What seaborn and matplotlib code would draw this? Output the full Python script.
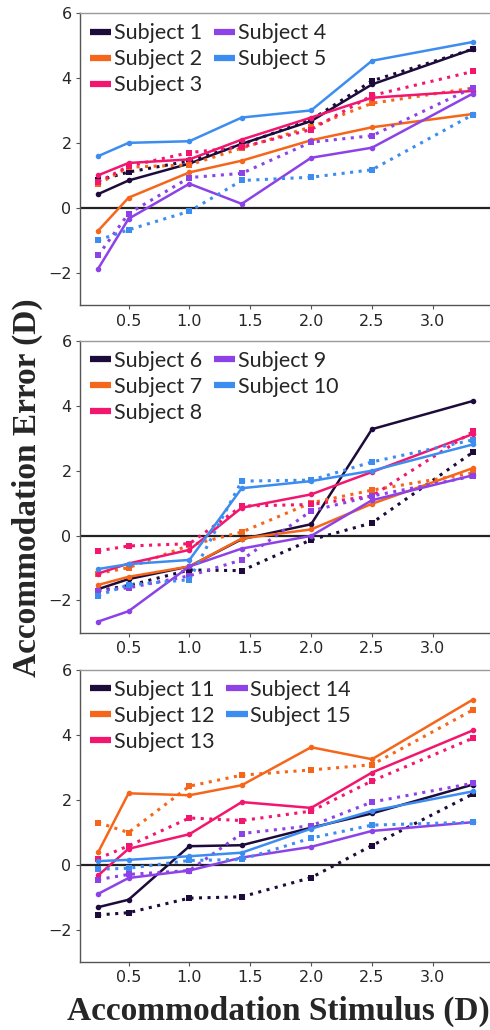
import matplotlib.pyplot as plt
import pandas as pd
import seaborn as sns
from matplotlib.lines import Line2D

# stimulus levels (D)
stimulus = [0.25, 0.5, 1.0, 1.43, 2.0, 2.5, 3.33]

subjects = [f'Subject {i}' for i in range(1, 16)]
colors = ['#1c0b3b', '#f5661a', '#f2166e', '#8c42e6', '#3d8df0']

# solid lines (circles)
solid = [
    [0.43, 0.85, 1.37, 1.98, 2.68, 3.81, 4.90],
    [-0.70, 0.32, 1.10, 1.46, 2.09, 2.49, 2.90],
    [1.01, 1.39, 1.50, 2.11, 2.79, 3.40, 3.61],
    [-1.87, -0.33, 0.75, 0.13, 1.55, 1.86, 3.53],
    [1.60, 2.01, 2.06, 2.79, 3.01, 4.54, 5.12],
    [-1.65, -1.34, -0.95, -0.11, 0.35, 3.28, 4.15],
    [-1.52, -1.27, -0.95, -0.09, 0.19, 0.98, 2.08],
    [-1.17, -0.86, -0.44, 0.86, 1.27, 1.96, 3.13],
    [-2.65, -2.33, -0.95, -0.40, -0.01, 1.09, 1.86],
    [-1.03, -0.88, -0.75, 1.46, 1.68, 2.00, 2.81],
    [-1.31, -1.08, 0.57, 0.60, 1.14, 1.58, 2.47],
    [0.38, 2.20, 2.14, 2.45, 3.62, 3.25, 5.09],
    [-0.33, 0.49, 0.94, 1.93, 1.75, 2.84, 4.14],
    [-0.90, -0.41, -0.18, 0.22, 0.55, 1.04, 1.31],
    [0.11, 0.15, 0.26, 0.37, 1.11, 1.66, 2.26],
]

# dotted lines (squares)
dotted = [
    [0.85, 1.11, 1.45, 1.96, 2.72, 3.92, 4.90],
    [0.74, 1.26, 1.33, 1.85, 2.50, 3.23, 3.70],
    [0.80, 1.29, 1.71, 1.88, 2.42, 3.47, 4.21],
    [-1.46, -0.17, 0.94, 1.07, 2.03, 2.23, 3.71],
    [-0.99, -0.67, -0.10, 0.85, 0.95, 1.18, 2.88],
    [-1.70, -1.54, -1.06, -1.08, -0.13, 0.39, 2.57],
    [-1.17, -0.99, -0.30, 0.11, 1.01, 1.40, 1.93],
    [-0.47, -0.32, -0.25, 0.91, 0.96, 1.22, 3.21],
    [-1.70, -1.61, -1.24, -0.75, 0.76, 1.22, 1.83],
    [-1.85, -1.52, -1.36, 1.68, 1.71, 2.27, 2.95],
    [-1.55, -1.48, -1.03, -0.99, -0.40, 0.59, 2.18],
    [1.30, 0.99, 2.42, 2.76, 2.92, 3.08, 4.77],
    [0.19, 0.58, 1.44, 1.36, 1.65, 2.58, 3.90],
    [-0.46, -0.30, -0.18, 0.96, 1.20, 1.93, 2.51],
    [-0.14, -0.11, 0.13, 0.16, 0.82, 1.22, 1.31],
]

sns.set_style('ticks')
plt.rcParams['font.family'] = ['DejaVu Sans']

fig = plt.figure(figsize=(4.9, 10.3), dpi=100)
tops = [0.987, 0.669, 0.3495]
h = 0.2835

for p in range(3):
    ax = fig.add_axes([0.163, tops[p] - h, 0.837, h])
    handles = []
    for k in range(5):
        i = p * 5 + k
        c = colors[k]
        df = pd.DataFrame({'x': stimulus, 'solid': solid[i], 'dotted': dotted[i]})
        sns.lineplot(data=df, x='x', y='dotted', ax=ax, color=c, linestyle=(0, (1, 1.8)),
                     linewidth=2.2, marker='s', markersize=4.5, markeredgewidth=0)
        sns.lineplot(data=df, x='x', y='solid', ax=ax, color=c, linewidth=1.8,
                     marker='o', markersize=4, markeredgewidth=0)
        handles.append(Line2D([], [], color=c, linewidth=4.5, solid_capstyle='butt'))
    ax.axhline(0, color='#222222', linewidth=1.6, zorder=1)
    ax.set_xlim(0.1, 3.47)
    ax.set_ylim(-3, 6)
    ax.set_xticks([0.5, 1.0, 1.5, 2.0, 2.5, 3.0])
    ax.set_yticks([-2, 0, 2, 4, 6])
    ax.set_xlabel('')
    ax.set_ylabel('')
    ax.tick_params(labelsize=11.5, length=3, width=0.8, color='#555555', pad=3)
    ax.spines['left'].set_color('#555555')
    ax.spines['bottom'].set_color('#555555')
    ax.spines['top'].set_color('#999999')
    ax.spines['right'].set_visible(False)
    for s in ['left', 'bottom', 'top']:
        ax.spines[s].set_linewidth(1.0)
    ax.legend(handles, subjects[p * 5:p * 5 + 5], ncol=2, loc='upper left',
              frameon=False, prop={'family': 'Lato', 'size': 15.5},
              handlelength=1.0, handletextpad=0.12, labelspacing=0.28,
              columnspacing=0.55, borderaxespad=0.2, borderpad=0.25)

fig.text(0.056, 0.527, 'Accommodation Error (D)', rotation=90, ha='center', va='center',
         family='Liberation Serif', weight='bold', fontsize=24)
fig.text(0.568, 0.018, 'Accommodation Stimulus (D)', ha='center', va='center',
         family='Liberation Serif', weight='bold', fontsize=24)

fig.savefig('out.png', dpi=100)
